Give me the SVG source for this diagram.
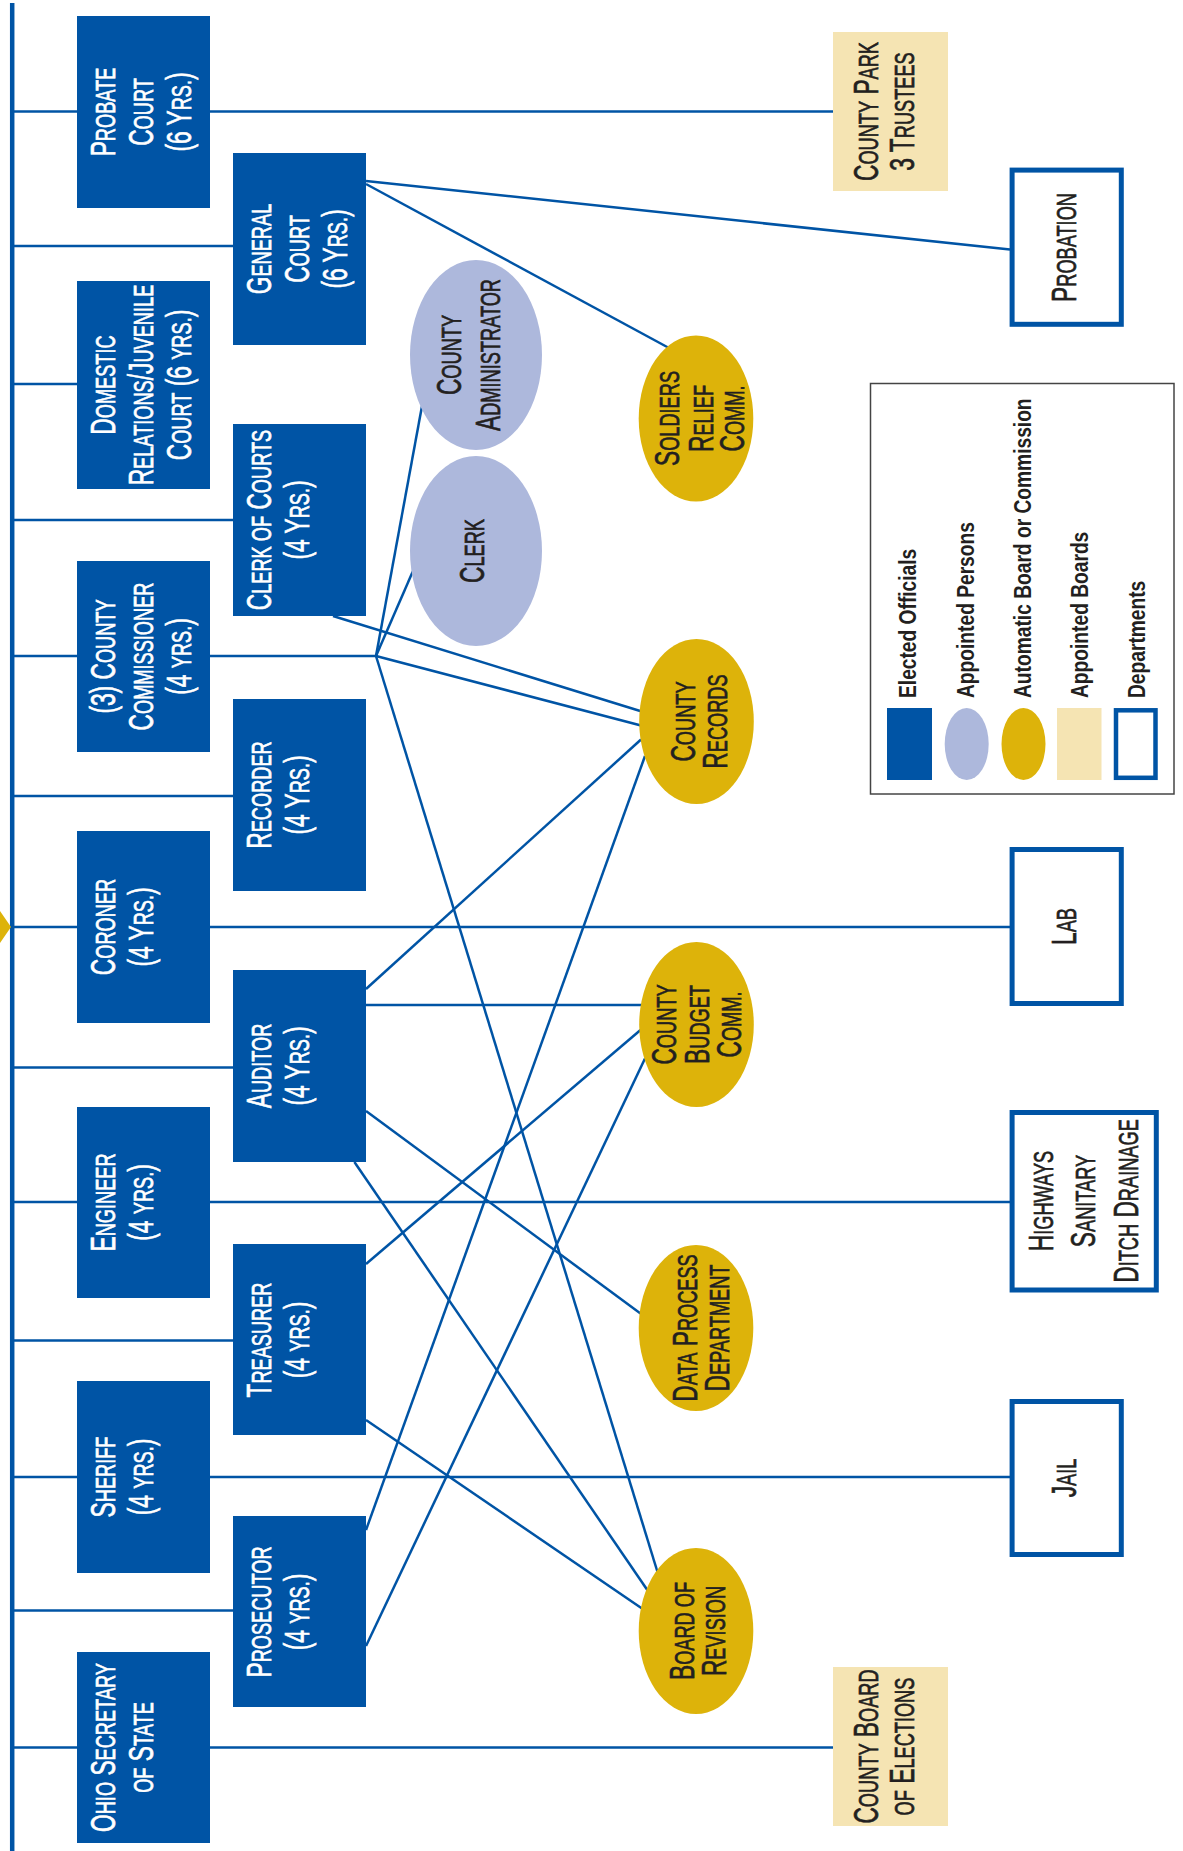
<svg xmlns="http://www.w3.org/2000/svg" width="1183" height="1851" viewBox="0 0 1183 1851">
<style>
.box{fill:#0054A5}
.per{fill:#ADB8DC}
.auto{fill:#DDB30A}
.apb{fill:#F5E4B3}
.dep{fill:#fff;stroke:#0054A5;stroke-width:5}
.ln{stroke:#0054A5;stroke-width:2.5;fill:none}
.bus{stroke:#0054A5;stroke-width:4.5;fill:none}
.t{font-family:"Liberation Sans",Arial,sans-serif;font-size:35px;text-anchor:middle}
.w{fill:#fff;stroke:#fff;stroke-width:0.7}
.k{fill:#231F20;stroke:#231F20;stroke-width:0.7}
.s{font-size:28px}
.lg{font-family:"Liberation Sans",Arial,sans-serif;font-weight:bold;font-size:24px;fill:#231F20}
</style>
<rect width="1183" height="1851" fill="#fff"/>
<g id="connectors">
<line class="bus" x1="12.2" y1="3" x2="12.2" y2="1851"/>
<polygon points="0,911 11,927 0,943" fill="#DDB30A"/>
<line class="ln" x1="12" y1="111.5" x2="833" y2="111.5"/>
<line class="ln" x1="12" y1="246" x2="233" y2="246"/>
<line class="ln" x1="12" y1="384" x2="77" y2="384"/>
<line class="ln" x1="12" y1="520" x2="233" y2="520"/>
<line class="ln" x1="12" y1="656" x2="376" y2="656"/>
<line class="ln" x1="12" y1="796" x2="233" y2="796"/>
<line class="ln" x1="12" y1="927" x2="1010" y2="927"/>
<line class="ln" x1="12" y1="1067.5" x2="233" y2="1067.5"/>
<line class="ln" x1="12" y1="1202" x2="1010" y2="1202"/>
<line class="ln" x1="12" y1="1340.5" x2="233" y2="1340.5"/>
<line class="ln" x1="12" y1="1477" x2="1010" y2="1477"/>
<line class="ln" x1="12" y1="1610.5" x2="233" y2="1610.5"/>
<line class="ln" x1="12" y1="1747.5" x2="833" y2="1747.5"/>
<line class="ln" x1="366" y1="1005" x2="642" y2="1005"/>
<line class="ln" x1="366" y1="181" x2="1010" y2="249.5"/>
<line class="ln" x1="366" y1="184" x2="669" y2="348"/>
<line class="ln" x1="376" y1="656" x2="422" y2="406"/>
<line class="ln" x1="376" y1="656" x2="413" y2="571"/>
<line class="ln" x1="376" y1="656" x2="641" y2="725.5"/>
<line class="ln" x1="376" y1="656" x2="657.5" y2="1572"/>
<line class="ln" x1="333" y1="616" x2="641" y2="711.3"/>
<line class="ln" x1="366" y1="989" x2="641" y2="739.5"/>
<line class="ln" x1="366" y1="1111" x2="640.5" y2="1313.5"/>
<line class="ln" x1="354.4" y1="1162" x2="648" y2="1591"/>
<line class="ln" x1="366" y1="1264" x2="640.5" y2="1030"/>
<line class="ln" x1="366" y1="1420" x2="642" y2="1608.5"/>
<line class="ln" x1="366" y1="1530" x2="645" y2="756"/>
<line class="ln" x1="366" y1="1646" x2="645" y2="1058.5"/>
</g>

<g id="probate-court">
<rect class="box" x="77" y="16" width="133" height="192"/>
<g transform="translate(77,112) rotate(-90) scale(0.65,1)">
<text class="t w" y="38">P<tspan class="s">ROBATE</tspan></text>
<text class="t w" y="76">C<tspan class="s">OURT</tspan></text>
<text class="t w" y="114">(6 Y<tspan class="s">RS.</tspan>)</text>
</g>
</g>

<g id="domestic-relations-court">
<rect class="box" x="77" y="281" width="133" height="208"/>
<g transform="translate(77,385) rotate(-90) scale(0.65,1)">
<text class="t w" y="38">D<tspan class="s">OMESTIC</tspan></text>
<text class="t w" y="76">R<tspan class="s">ELATIONS</tspan>/J<tspan class="s">UVENILE</tspan></text>
<text class="t w" y="114">C<tspan class="s">OURT</tspan> (6 <tspan class="s">YRS.</tspan>)</text>
</g>
</g>

<g id="county-commissioner">
<rect class="box" x="77" y="561" width="133" height="191"/>
<g transform="translate(77,656.5) rotate(-90) scale(0.65,1)">
<text class="t w" y="38">(3) C<tspan class="s">OUNTY</tspan></text>
<text class="t w" y="76">C<tspan class="s">OMMISSIONER</tspan></text>
<text class="t w" y="114">(4 <tspan class="s">YRS.</tspan>)</text>
</g>
</g>

<g id="coroner">
<rect class="box" x="77" y="831" width="133" height="192"/>
<g transform="translate(77,927) rotate(-90) scale(0.65,1)">
<text class="t w" y="38">C<tspan class="s">ORONER</tspan></text>
<text class="t w" y="76">(4 Y<tspan class="s">RS.</tspan>)</text>
</g>
</g>

<g id="engineer">
<rect class="box" x="77" y="1107" width="133" height="191"/>
<g transform="translate(77,1202.5) rotate(-90) scale(0.65,1)">
<text class="t w" y="38">E<tspan class="s">NGINEER</tspan></text>
<text class="t w" y="76">(4 <tspan class="s">YRS.</tspan>)</text>
</g>
</g>

<g id="sheriff">
<rect class="box" x="77" y="1381" width="133" height="192"/>
<g transform="translate(77,1477) rotate(-90) scale(0.65,1)">
<text class="t w" y="38">S<tspan class="s">HERIFF</tspan></text>
<text class="t w" y="76">(4 <tspan class="s">YRS.</tspan>)</text>
</g>
</g>

<g id="ohio-secretary-of-state">
<rect class="box" x="77" y="1652" width="133" height="191"/>
<g transform="translate(77,1747.5) rotate(-90) scale(0.65,1)">
<text class="t w" y="38">O<tspan class="s">HIO</tspan> S<tspan class="s">ECRETARY</tspan></text>
<text class="t w" y="76"><tspan class="s">OF</tspan> S<tspan class="s">TATE</tspan></text>
</g>
</g>

<g id="general-court">
<rect class="box" x="233" y="153" width="133" height="192"/>
<g transform="translate(233,249) rotate(-90) scale(0.65,1)">
<text class="t w" y="38">G<tspan class="s">ENERAL</tspan></text>
<text class="t w" y="76">C<tspan class="s">OURT</tspan></text>
<text class="t w" y="114">(6 Y<tspan class="s">RS.</tspan>)</text>
</g>
</g>

<g id="clerk-of-courts">
<rect class="box" x="233" y="424" width="133" height="192"/>
<g transform="translate(233,520) rotate(-90) scale(0.65,1)">
<text class="t w" y="38">C<tspan class="s">LERK OF</tspan> C<tspan class="s">OURTS</tspan></text>
<text class="t w" y="76">(4 Y<tspan class="s">RS.</tspan>)</text>
</g>
</g>

<g id="recorder">
<rect class="box" x="233" y="699" width="133" height="192"/>
<g transform="translate(233,795) rotate(-90) scale(0.65,1)">
<text class="t w" y="38">R<tspan class="s">ECORDER</tspan></text>
<text class="t w" y="76">(4 Y<tspan class="s">RS.</tspan>)</text>
</g>
</g>

<g id="auditor">
<rect class="box" x="233" y="970" width="133" height="192"/>
<g transform="translate(233,1066) rotate(-90) scale(0.65,1)">
<text class="t w" y="38">A<tspan class="s">UDITOR</tspan></text>
<text class="t w" y="76">(4 Y<tspan class="s">RS.</tspan>)</text>
</g>
</g>

<g id="treasurer">
<rect class="box" x="233" y="1244" width="133" height="191"/>
<g transform="translate(233,1340) rotate(-90) scale(0.65,1)">
<text class="t w" y="38">T<tspan class="s">REASURER</tspan></text>
<text class="t w" y="76">(4 <tspan class="s">YRS.</tspan>)</text>
</g>
</g>

<g id="prosecutor">
<rect class="box" x="233" y="1516" width="133" height="191"/>
<g transform="translate(233,1612) rotate(-90) scale(0.65,1)">
<text class="t w" y="38">P<tspan class="s">ROSECUTOR</tspan></text>
<text class="t w" y="76">(4 <tspan class="s">YRS.</tspan>)</text>
</g>
</g>

<g id="county-administrator">
<ellipse class="per" cx="476" cy="355" rx="66" ry="95"/>
<g transform="translate(476,355) rotate(-90) scale(0.65,1)">
<text class="t k" y="-15">C<tspan class="s">OUNTY</tspan></text>
<text class="t k" y="23.5">A<tspan class="s">DMINISTRATOR</tspan></text>
</g>
</g>

<g id="clerk">
<ellipse class="per" cx="476" cy="551" rx="66" ry="95"/>
<g transform="translate(476,551) rotate(-90) scale(0.65,1)">
<text class="t k" y="8">C<tspan class="s">LERK</tspan></text>
</g>
</g>

<g id="soldiers-relief-comm">
<ellipse class="auto" cx="696" cy="418.5" rx="57.3" ry="83"/>
<g transform="translate(696,418.5) rotate(-90) scale(0.65,1)">
<text class="t k" y="-17">S<tspan class="s">OLDIERS</tspan></text>
<text class="t k" y="16.5">R<tspan class="s">ELIEF</tspan></text>
<text class="t k" y="48">C<tspan class="s">OMM.</tspan></text>
</g>
</g>

<g id="county-records">
<ellipse class="auto" cx="696.5" cy="721.5" rx="57.3" ry="82.6"/>
<g transform="translate(696.5,721.5) rotate(-90) scale(0.65,1)">
<text class="t k" y="-2">C<tspan class="s">OUNTY</tspan></text>
<text class="t k" y="30.5">R<tspan class="s">ECORDS</tspan></text>
</g>
</g>

<g id="county-budget-comm">
<ellipse class="auto" cx="696.5" cy="1024.5" rx="57.3" ry="82.6"/>
<g transform="translate(696.5,1024.5) rotate(-90) scale(0.65,1)">
<text class="t k" y="-20.5">C<tspan class="s">OUNTY</tspan></text>
<text class="t k" y="12.5">B<tspan class="s">UDGET</tspan></text>
<text class="t k" y="44.5">C<tspan class="s">OMM.</tspan></text>
</g>
</g>

<g id="data-process-department">
<ellipse class="auto" cx="696" cy="1328" rx="57.3" ry="83"/>
<g transform="translate(696,1328) rotate(-90) scale(0.65,1)">
<text class="t k" y="1">D<tspan class="s">ATA</tspan> P<tspan class="s">ROCESS</tspan></text>
<text class="t k" y="33">D<tspan class="s">EPARTMENT</tspan></text>
</g>
</g>

<g id="board-of-revision">
<ellipse class="auto" cx="696" cy="1631" rx="57.3" ry="83"/>
<g transform="translate(696,1631) rotate(-90) scale(0.65,1)">
<text class="t k" y="-2.5">B<tspan class="s">OARD OF</tspan></text>
<text class="t k" y="29.5">R<tspan class="s">EVISION</tspan></text>
</g>
</g>

<g id="county-park-trustees">
<rect class="apb" x="833" y="32" width="115" height="159"/>
<g transform="translate(890,111.5) rotate(-90) scale(0.65,1)">
<text class="t k" y="-12">C<tspan class="s">OUNTY</tspan> P<tspan class="s">ARK</tspan></text>
<text class="t k" y="24">3 T<tspan class="s">RUSTEES</tspan></text>
</g>
</g>

<g id="county-board-of-elections">
<rect class="apb" x="833" y="1667" width="115" height="159"/>
<g transform="translate(890,1746.5) rotate(-90) scale(0.65,1)">
<text class="t k" y="-12">C<tspan class="s">OUNTY</tspan> B<tspan class="s">OARD</tspan></text>
<text class="t k" y="24"><tspan class="s">OF</tspan> E<tspan class="s">LECTIONS</tspan></text>
</g>
</g>

<g id="probation">
<rect class="dep" x="1012.1" y="170.1" width="109.2" height="154.2"/>
<g transform="translate(1066.7,247.5) rotate(-90) scale(0.65,1)">
<text class="t k" y="9.5">P<tspan class="s">ROBATION</tspan></text>
</g>
</g>

<g id="lab">
<rect class="dep" x="1012.1" y="849.5" width="109.2" height="154"/>
<g transform="translate(1066.7,926.5) rotate(-90) scale(0.65,1)">
<text class="t k" y="9">L<tspan class="s">AB</tspan></text>
</g>
</g>

<g id="highways-sanitary-ditch-drainage">
<rect class="dep" x="1012.1" y="1112.5" width="144.2" height="177.5"/>
<g transform="translate(1084.2,1201) rotate(-90) scale(0.65,1)">
<text class="t k" y="-31">H<tspan class="s">IGHWAYS</tspan></text>
<text class="t k" y="11">S<tspan class="s">ANITARY</tspan></text>
<text class="t k" y="54">D<tspan class="s">ITCH</tspan> D<tspan class="s">RAINAGE</tspan></text>
</g>
</g>

<g id="jail">
<rect class="dep" x="1012.1" y="1401.5" width="109.2" height="153"/>
<g transform="translate(1066.7,1478) rotate(-90) scale(0.65,1)">
<text class="t k" y="9.5">J<tspan class="s">AIL</tspan></text>
</g>
</g>

<g id="legend">
<rect x="870.5" y="383.5" width="303.5" height="410.5" fill="#fff" stroke="#444" stroke-width="1.5"/>
<rect class="box" x="887" y="708" width="45" height="72"/>
<ellipse class="per" cx="966.7" cy="744" rx="22" ry="36"/>
<ellipse class="auto" cx="1023.5" cy="744" rx="22" ry="36"/>
<rect class="apb" x="1057" y="708" width="44.5" height="72"/>
<rect x="1116" y="710.3" width="39.5" height="67.5" fill="#fff" stroke="#0054A5" stroke-width="4.5"/>
<text class="lg" transform="translate(916,698) rotate(-90) scale(0.8,1)">Elected Officials</text>
<text class="lg" transform="translate(973.5,698) rotate(-90) scale(0.8,1)">Appointed Persons</text>
<text class="lg" transform="translate(1031,698) rotate(-90) scale(0.8,1)">Automatic Board or Commission</text>
<text class="lg" transform="translate(1088,698) rotate(-90) scale(0.8,1)">Appointed Boards</text>
<text class="lg" transform="translate(1145,698) rotate(-90) scale(0.8,1)">Departments</text>
</g>
</svg>
